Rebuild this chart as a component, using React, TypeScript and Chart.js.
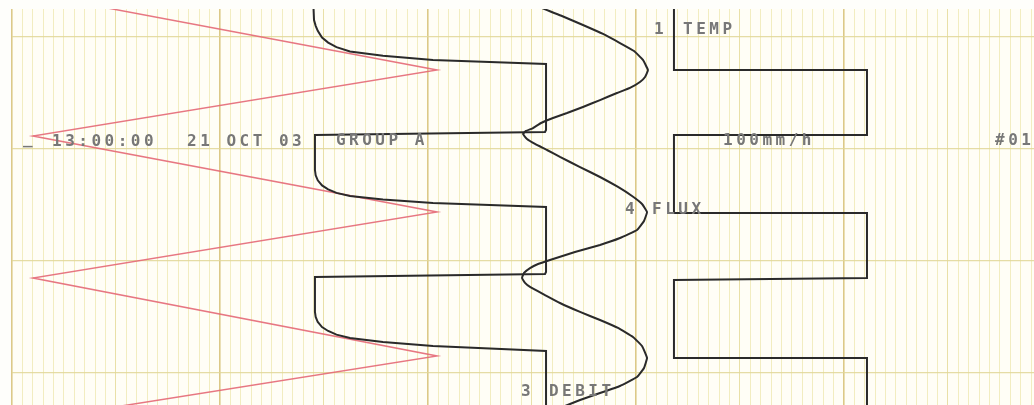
import { useEffect, useRef } from 'react';
import { Chart, registerables } from 'chart.js';

Chart.register(...registerables);

// Chart-recorder paper: x = % of span (minor 1 %, medium 10 %, major 20 %),
// y = paper feed in mm, running downwards (grid line every 10 mm).
const X_MIN = 0;
const X_MAX = 98.27;
const Y_MIN = -2.5;
const Y_MAX = 32.86;

// Channel 1 - TEMP (square wave) [%, mm]
const tempTrace: [number, number][] = [
  [63.65, -3.75], [63.65, 2.95], [82.21, 2.95], [82.21, 8.75], [63.65, 8.75],
  [63.65, 15.71], [82.21, 15.71], [82.21, 21.52], [63.65, 21.7], [63.65, 28.66],
  [82.21, 28.66], [82.21, 33.3],
];

// Channel 2 - red triangle wave [%, mm]
const rampTrace: [number, number][] = [
  [2.02, -3.84], [40.87, 2.95], [2.02, 8.84], [40.87, 15.63],
  [2.02, 21.52], [40.87, 28.48], [2.02, 34.2],
];

// Channel 3 - DEBIT (soft ramp / hold / drop) [%, mm]
const debitTrace: [number, number][] = [
  [28.94, -3.75], [29.04, -1.52], [29.2, -1.0], [29.4, -0.55], [29.81, 0.05], [30.4, 0.5], [31.2, 0.9],
  [32.5, 1.3], [35.67, 1.68], [40.48, 2.05], [51.35, 2.41], [51.35, 8.3],
  [51.25, 8.48], [29.13, 8.75],
  [29.13, 11.88], [29.2, 12.35], [29.4, 12.8], [29.81, 13.25], [30.4, 13.6], [31.2, 13.92], [32.5, 14.2],
  [35.67, 14.5], [40.48, 14.82], [51.35, 15.18], [51.35, 20.98], [51.25, 21.16],
  [29.13, 21.43],
  [29.13, 24.55], [29.2, 25.0], [29.4, 25.45], [29.81, 25.9], [30.4, 26.25], [31.2, 26.58], [32.5, 26.88],
  [35.67, 27.23], [40.48, 27.59], [51.35, 28.04], [51.35, 33.3],
];

// Channel 4 - FLUX (sine-like) [%, mm]
const fluxTrace: [number, number][] = [
  [50.29, -3.3], [50.96, -2.59], [52.88, -1.875], [54.9, -1.07], [56.83, -0.27],
  [58.46, 0.54], [59.81, 1.25], [60.67, 2.05], [61.15, 2.95], [60.87, 3.57],
  [60.38, 4.02], [59.42, 4.55], [58.17, 5.0], [56.54, 5.63], [54.9, 6.25],
  [53.37, 6.79], [52.02, 7.23], [50.87, 7.68], [50.1, 8.13], [49.42, 8.39],
  [49.13, 8.66], [49.52, 9.11], [50.29, 9.55], [51.44, 10.09], [52.69, 10.71],
  [54.62, 11.61], [56.54, 12.5], [58.27, 13.39], [59.62, 14.2], [60.58, 14.91],
  [61.06, 15.63], [60.77, 16.43], [60.1, 17.23], [58.46, 17.95], [56.54, 18.57],
  [54.13, 19.2], [51.73, 19.91], [50.58, 20.27], [49.81, 20.63], [49.23, 21.07],
  [49.04, 21.52], [49.33, 21.96], [49.81, 22.32], [51.25, 23.04], [52.69, 23.75],
  [54.62, 24.55], [56.54, 25.27], [58.27, 25.98], [59.71, 26.79], [60.58, 27.59],
  [61.06, 28.66], [60.77, 29.55], [60.1, 30.36], [58.46, 31.16], [56.54, 31.79],
  [54.62, 32.41], [52.69, 33.13],
];

// Printed annotations: text, left edge (%), vertical centre (mm)
const labelTexts = ['1', 'TEMP', '_', '13:00:00', '21 OCT 03', 'GROUP A', '100mm/h', '#01', '4', 'FLUX', '3', 'DEBIT'];
const labelX = [61.73, 64.52, 1.06, 3.85, 16.83, 31.15, 68.37, 94.52, 58.94, 61.54, 48.94, 51.63];
const labelY = [-0.63, -0.63, 9.2, 9.375, 9.375, 9.29, 9.29, 9.29, 15.45, 15.45, 31.7, 31.7];

const toXY = (arr: [number, number][]) => arr.map(([x, y]) => ({ x, y }));

const xGridValues: number[] = [];
for (let v = 0; v <= 98; v++) xGridValues.push(v);
const yGridValues = [0, 10, 20, 30];

const paperPlugin = {
  id: 'paper',
  beforeDraw(chart: any) {
    const { ctx, width, height, chartArea } = chart;
    ctx.save();
    ctx.fillStyle = '#fefefb';
    ctx.fillRect(0, 0, width, height);
    ctx.fillStyle = '#fffef6';
    ctx.fillRect(chartArea.left, chartArea.top, chartArea.right - chartArea.left, chartArea.bottom - chartArea.top);
    ctx.restore();
  },
  afterDatasetsDraw(chart: any) {
    const { ctx } = chart;
    const xs = chart.scales.x;
    const ys = chart.scales.y;
    ctx.save();
    ctx.font = 'bold 16px "DejaVu Sans Mono"';
    ctx.fillStyle = '#777777';
    ctx.textBaseline = 'middle';
    ctx.textAlign = 'left';
    (ctx as any).letterSpacing = '3.5px';
    labelTexts.forEach((t, i) => {
      ctx.fillText(t, xs.getPixelForValue(labelX[i]), ys.getPixelForValue(labelY[i]));
    });
    ctx.restore();
  },
};

export default function App() {
  const ref = useRef<HTMLCanvasElement | null>(null);

  useEffect(() => {
    if (!ref.current) return;
    const ink = '#2a2a2a';
    const chart = new Chart(ref.current, {
      type: 'scatter',
      data: {
        datasets: [
          { label: 'TEMP', data: toXY(tempTrace), borderColor: ink, borderWidth: 2, showLine: true, pointRadius: 0, tension: 0 },
          { label: 'DEBIT', data: toXY(debitTrace), borderColor: ink, borderWidth: 2, showLine: true, pointRadius: 0, tension: 0 },
          { label: 'FLUX', data: toXY(fluxTrace), borderColor: ink, borderWidth: 2, showLine: true, pointRadius: 0, tension: 0.1 },
          { label: 'CH2', data: toXY(rampTrace), borderColor: 'rgba(228,104,118,0.9)', borderWidth: 1.5, showLine: true, pointRadius: 0, tension: 0 },
        ],
      },
      options: {
        animation: false,
        responsive: false,
        devicePixelRatio: 1,
        layout: { padding: { left: 12, top: 9, right: 0, bottom: 0 } },
        plugins: { legend: { display: false }, tooltip: { enabled: false }, title: { display: false } },
        events: [],
        scales: {
          x: {
            type: 'linear',
            min: X_MIN,
            max: X_MAX,
            afterBuildTicks: (axis: any) => { axis.ticks = xGridValues.map((v) => ({ value: v })); },
            ticks: { display: false },
            border: { display: false },
            grid: {
              drawTicks: false,
              color: (c: any) => {
                const v = c.tick ? c.tick.value : 1;
                if (v % 20 === 0) return 'rgba(214,192,115,0.85)';
                if (v % 10 === 0) return 'rgba(225,214,140,0.75)';
                return 'rgba(236,230,170,0.7)';
              },
              lineWidth: (c: any) => {
                const v = c.tick ? c.tick.value : 1;
                return v % 20 === 0 ? 1.6 : 1;
              },
            },
          },
          y: {
            type: 'linear',
            reverse: true,
            min: Y_MIN,
            max: Y_MAX,
            afterBuildTicks: (axis: any) => { axis.ticks = yGridValues.map((v) => ({ value: v })); },
            ticks: { display: false },
            border: { display: false },
            grid: { drawTicks: false, color: 'rgba(224,214,150,0.85)', lineWidth: 1.2 },
          },
        },
      },
      plugins: [paperPlugin],
    });
    return () => chart.destroy();
  }, []);

  return (
    <div style={{ position: 'absolute', left: 0, top: 0, width: 1034, height: 405 }}>
      <canvas ref={ref} width={1034} height={405} />
    </div>
  );
}
